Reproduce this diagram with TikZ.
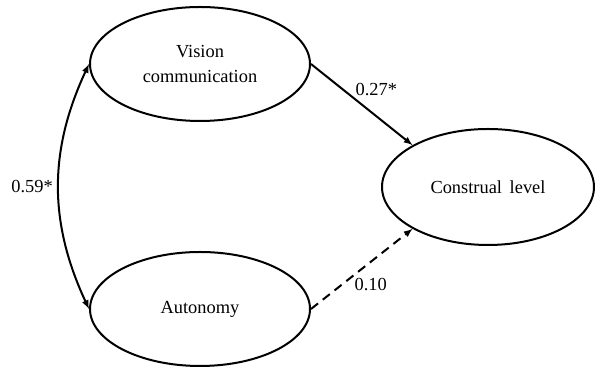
\documentclass[tikz,border=0pt]{standalone}
\usepackage{fontspec}
\setmainfont{Liberation Serif}
\usetikzlibrary{shapes.geometric}

\begin{document}
\begin{tikzpicture}[x=1pt,y=1pt,>=latex,
    every node/.style={font=\fontsize{18.4}{25}\selectfont},
    latent/.style={draw,ellipse,line width=2pt,inner sep=0pt,align=center,
                   minimum width=220pt,minimum height=114pt},
    path/.style={->,line width=2pt},
    coef/.style={inner sep=1pt}]
    \useasboundingbox (0,0) rectangle (595,371);
    \node [latent] (vision) at (200,307) {Vision\\communication};
    \node [latent] (autonomy) at (200,62) {Autonomy};
    \node [latent,minimum width=212pt,minimum height=116pt] (construal) at (488,184) {Construal\, level};

    % correlation
    \draw [<->,line width=2pt] (vision.west) to [out=245,in=115]
        node [left,inner sep=5pt] {0.59*} (autonomy.west);

    \draw [path] (vision.east) -- (construal.151)
        node [coef,pos=0.42,above right] {0.27*};
    \draw [path,dash pattern=on 9pt off 6pt] (autonomy.east) -- (construal.209)
        node [coef,pos=0.41,below right] {0.10};
\end{tikzpicture}
\end{document}
